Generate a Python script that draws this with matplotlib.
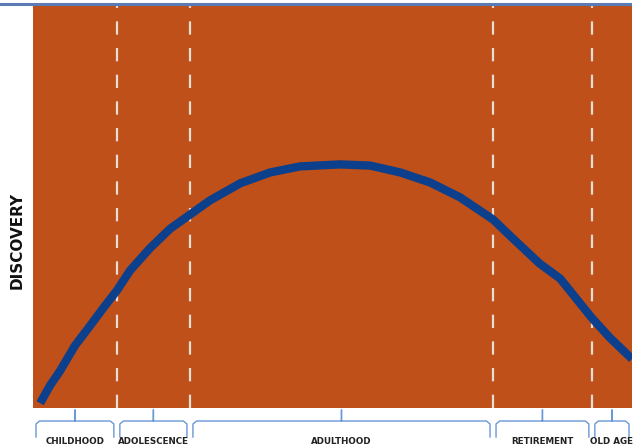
import matplotlib
matplotlib.use("Agg")
import matplotlib.pyplot as plt
import matplotlib.transforms as mtransforms

# Life-stage boundaries on a 0-100 "lifetime" scale
stages = ["CHILDHOOD", "ADOLESCENCE", "ADULTHOOD", "RETIREMENT", "OLD AGE"]
stage_bounds = [0.0, 14.0, 26.2, 76.8, 93.3, 100.0]

# Discovery curve (lifetime %, discovery %)
life_x = [1.2, 2.8, 4.5, 7.0, 9.5, 12.0, 14.0, 16.2, 19.5, 22.9, 26.2, 29.5,
          34.6, 39.6, 44.6, 51.3, 56.3, 61.3, 66.3, 71.3, 76.8, 79.6, 84.6,
          88.0, 93.3, 96.3, 100.0]
discovery_y = [1.2, 5.5, 9.2, 15.5, 20.4, 25.4, 29.2, 34.2, 39.7, 44.6, 48.1,
               51.6, 55.9, 58.6, 60.1, 60.6, 60.3, 58.6, 56.1, 52.4, 46.9,
               42.9, 35.9, 32.2, 22.4, 17.5, 12.2]

ORANGE = "#bf5019"
BLUE = "#0c3f8c"
BRACE = "#6a97d6"

W, H = 636, 447
fig = plt.figure(figsize=(W / 100, H / 100), dpi=100)
ax = fig.add_axes([33 / W, 39 / H, 599 / W, 402 / H])
ax.set_facecolor(ORANGE)
ax.set_xlim(0, 100)
ax.set_ylim(0, 100)
ax.set_xticks([])
ax.set_yticks([])
for sp in ax.spines.values():
    sp.set_visible(False)

# top rule across the whole figure
fig.add_artist(plt.Line2D([0, 0.99], [1 - 4 / H, 1 - 4 / H], color="#5b7bb5",
                          lw=2.2, transform=fig.transFigure))

for b in stage_bounds[1:-1]:
    ax.axvline(b, color="#e6ddd5", lw=1.6, dashes=(6, 6), zorder=2)

ax.plot(life_x, discovery_y, color=BLUE, lw=6.0, solid_capstyle="butt",
        solid_joinstyle="round", zorder=3)

# braces under each stage, x in data, y in pixels below the axes
trans = mtransforms.blended_transform_factory(ax.transData, ax.transAxes)
px = 1 / 402


def brace(x0, x1):
    xm = (x0 + x1) / 2
    y_top = -13 * px
    y_end = -29 * px
    y_tip = -2 * px
    r = 0.6
    xs = [x0, x0, x0 + r, xm - r, xm, xm, xm, xm + r, x1 - r, x1, x1]
    ys = [y_end, y_top - 3 * px, y_top, y_top, y_top, y_tip,
          y_top, y_top, y_top, y_top - 3 * px, y_end]
    ax.plot(xs, ys, color=BRACE, lw=1.0, transform=trans, clip_on=False)


gap = 0.5
for i, name in enumerate(stages):
    x0 = stage_bounds[i] + gap
    x1 = stage_bounds[i + 1] - gap
    brace(x0, x1)
    ax.text((x0 + x1) / 2, -33 * px, name, transform=trans, ha="center",
            va="center", fontsize=6.3, fontweight="bold", color="#222222",
            family="DejaVu Sans Condensed")

fig.text(17 / W, 1 - 240 / H, "DISCOVERY", rotation=90, ha="center",
         va="center", fontsize=11, fontweight="bold", color="#111111")

fig.savefig("out.png", dpi=100)
